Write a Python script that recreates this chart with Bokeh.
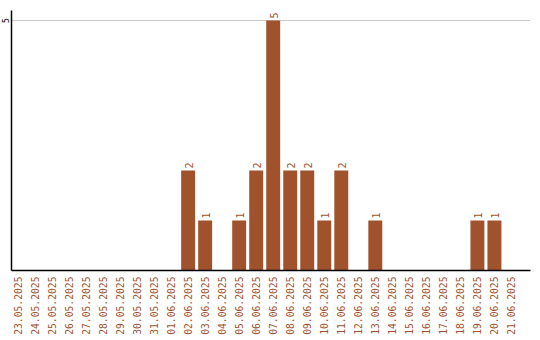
import math
from bokeh.plotting import figure
from bokeh.layouts import row
from bokeh.models import ColumnDataSource, FixedTicker, Range1d
from bokeh.core.properties import value
from bokeh.embed import file_html
from bokeh.resources import INLINE

dates = ["23.05.2025", "24.05.2025", "25.05.2025", "26.05.2025", "27.05.2025",
         "28.05.2025", "29.05.2025", "30.05.2025", "31.05.2025", "01.06.2025",
         "02.06.2025", "03.06.2025", "04.06.2025", "05.06.2025", "06.06.2025",
         "07.06.2025", "08.06.2025", "09.06.2025", "10.06.2025", "11.06.2025",
         "12.06.2025", "13.06.2025", "14.06.2025", "15.06.2025", "16.06.2025",
         "17.06.2025", "18.06.2025", "19.06.2025", "20.06.2025", "21.06.2025"]
counts = [0, 0, 0, 0, 0, 0, 0, 0, 0, 0,
          2, 1, 0, 1, 2, 5, 2, 2, 1, 2,
          0, 1, 0, 0, 0, 0, 0, 1, 1, 0]
y_ticks = [5]

BROWN = "#A0522D"
xs = list(range(len(dates)))
yr = Range1d(0, 5.2)

# narrow strip holding the y tick labels
lab = figure(width=10, height=340, output_backend="svg", toolbar_location=None,
             x_range=Range1d(0, 10), y_range=yr,
             x_axis_location=None, y_axis_location=None,
             min_border_left=0, min_border_right=0, min_border_top=10,
             min_border_bottom=70)
lab.outline_line_color = None
lab.xgrid.grid_line_color = None
lab.ygrid.grid_line_color = None
ysrc = ColumnDataSource(dict(x=[4.5] * len(y_ticks), y=y_ticks,
                             t=[str(t) for t in y_ticks]))
lab.text(x="x", y="y", text="t", source=ysrc, angle=math.pi / 2,
         text_align="center", text_baseline="middle", text_color="black",
         text_font=value("DejaVu Sans Mono"), text_font_size="8px")

p = figure(width=530, height=340, output_backend="svg", toolbar_location=None,
           x_range=Range1d(-0.38, 30.12), y_range=yr,
           min_border_left=1, min_border_right=10, min_border_top=10,
           min_border_bottom=70)
p.outline_line_color = None
p.background_fill_color = "white"

src = ColumnDataSource(dict(x=xs, top=counts))
p.vbar(x="x", top="top", width=0.82, bottom=0, source=src,
       fill_color=BROWN, line_color=None)

lx = [x for x, c in zip(xs, counts) if c > 0]
ly = [c for c in counts if c > 0]
lt = [str(c) for c in counts if c > 0]
lsrc = ColumnDataSource(dict(x=lx, y=ly, t=lt))
p.text(x="x", y="y", text="t", source=lsrc, angle=math.pi / 2,
       text_align="left", text_baseline="middle", x_offset=1, y_offset=-2,
       text_color=BROWN, text_font=value("DejaVu Sans Mono"),
       text_font_size="10px")

p.xgrid.grid_line_color = None
p.ygrid.ticker = FixedTicker(ticks=y_ticks)
p.ygrid.grid_line_color = "#cccccc"
p.ygrid.grid_line_width = 1

xa = p.xaxis[0]
xa.ticker = FixedTicker(ticks=xs)
xa.major_label_overrides = {i: d for i, d in enumerate(dates)}
xa.major_label_orientation = math.pi / 2
xa.major_label_text_color = BROWN
xa.major_label_text_font = "DejaVu Sans Mono"
xa.major_label_text_font_size = "9.7px"
xa.major_tick_line_color = None
xa.minor_tick_line_color = None
xa.major_tick_out = 0
xa.minor_tick_out = 0
xa.axis_line_color = "black"
xa.axis_line_width = 1.5
xa.major_label_standoff = 6

ya = p.yaxis[0]
ya.ticker = FixedTicker(ticks=[])
ya.major_label_standoff = 0
ya.major_tick_line_color = None
ya.minor_tick_line_color = None
ya.major_tick_out = 0
ya.minor_tick_out = 0
ya.axis_line_color = "black"
ya.axis_line_width = 1.5

layout = row(lab, p, spacing=0)
open("out.html", "w").write(file_html(layout, INLINE))
